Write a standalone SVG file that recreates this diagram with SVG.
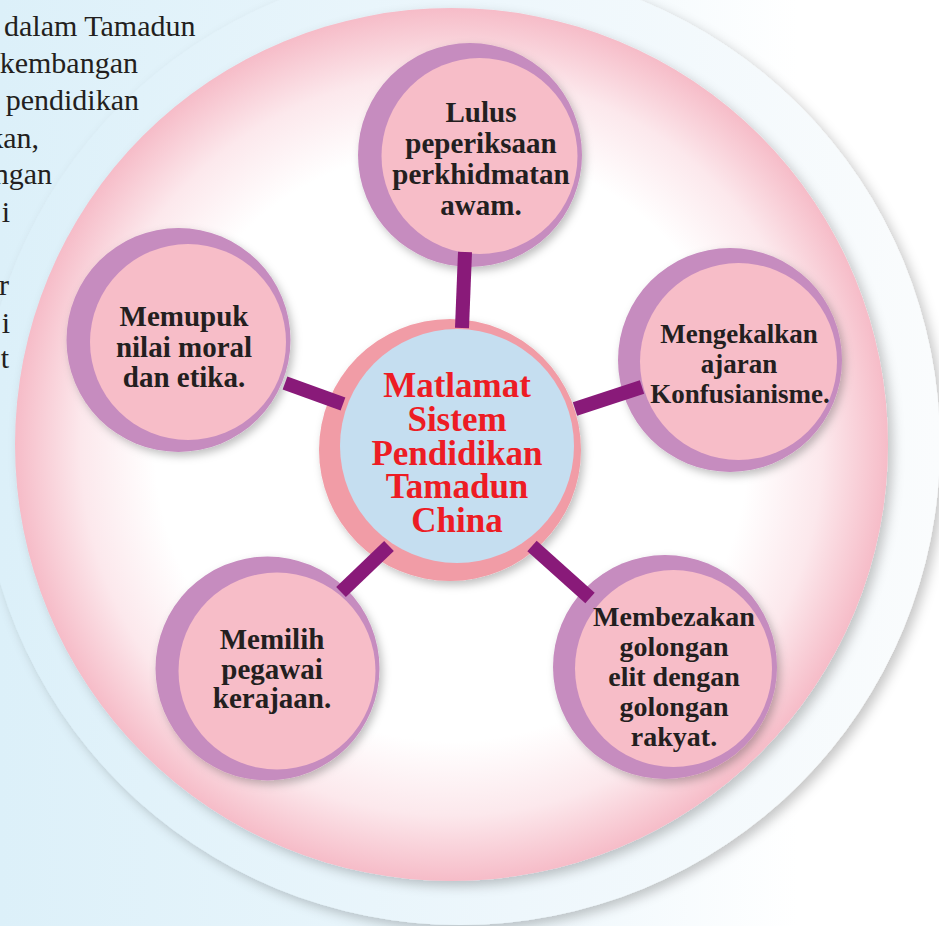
<svg xmlns="http://www.w3.org/2000/svg" width="939" height="926" viewBox="0 0 939 926">
  <defs>
    <linearGradient id="bgGrad" gradientUnits="userSpaceOnUse" x1="0" y1="0" x2="939" y2="0">
      <stop offset="0" stop-color="#dcf0f9"/>
      <stop offset="0.55" stop-color="#edf7fc"/>
      <stop offset="0.85" stop-color="#ffffff"/>
    </linearGradient>
    <linearGradient id="outerGrad" gradientUnits="userSpaceOnUse" x1="0" y1="0" x2="939" y2="0">
      <stop offset="0" stop-color="#dcf0f9"/>
      <stop offset="0.55" stop-color="#eef7fc"/>
      <stop offset="1" stop-color="#fafcfd"/>
    </linearGradient>
    <radialGradient id="pinkGrad" cx="0.5" cy="0.5" r="0.5">
      <stop offset="0" stop-color="#ffffff"/>
      <stop offset="0.68" stop-color="#ffffff"/>
      <stop offset="0.85" stop-color="#fce8ec"/>
      <stop offset="1" stop-color="#f6bcc8"/>
    </radialGradient>
    <filter id="shBig" x="-10%" y="-10%" width="125%" height="125%">
      <feDropShadow dx="5" dy="5" stdDeviation="6" flood-color="#000" flood-opacity="0.22"/>
    </filter>
    <filter id="shNode" x="-15%" y="-15%" width="135%" height="135%">
      <feDropShadow dx="3" dy="4" stdDeviation="4" flood-color="#000" flood-opacity="0.25"/>
    </filter>
    <style>
      .ring { fill: #c68cbf; filter: url(#shNode); }
      .face { fill: #f7bdc8; }
      .lbl { font-family: "Liberation Serif", "Times New Roman", serif; font-weight: bold; font-size: 29px; fill: #231f20; text-anchor: middle; }
      .ctr { font-family: "Liberation Serif", "Times New Roman", serif; font-weight: bold; font-size: 35px; fill: #ed1c24; text-anchor: middle; }
      .para { font-family: "Liberation Serif", "Times New Roman", serif; font-size: 30px; fill: #231f20; }
      .bar { stroke: #891a79; stroke-width: 14; stroke-linecap: butt; fill: none; }
    </style>
  </defs>

  <rect x="0" y="0" width="939" height="926" fill="url(#bgGrad)"/>

  <g id="backdrop">
    <circle cx="460" cy="445" r="480" fill="url(#outerGrad)" filter="url(#shBig)"/>
    <circle cx="451.5" cy="444.5" r="436.5" fill="url(#pinkGrad)" filter="url(#shBig)"/>
  </g>

  <g id="paragraph">
    <text class="para" x="4" y="36">dalam Tamadun</text>
    <text class="para" x="138" y="73" text-anchor="end">kembangan</text>
    <text class="para" x="139" y="110" text-anchor="end">pendidikan</text>
    <text class="para" x="39" y="148" text-anchor="end">kan,</text>
    <text class="para" x="52" y="184" text-anchor="end">ngan</text>
    <text class="para" x="10" y="222" text-anchor="end">i</text>
    <text class="para" x="9" y="295" text-anchor="end">r</text>
    <text class="para" x="10" y="333" text-anchor="end">i</text>
    <text class="para" x="9" y="368" text-anchor="end">t</text>
  </g>

  <g id="center">
    <circle cx="450" cy="450" r="131" fill="#f19ca6" filter="url(#shNode)"/>
    <circle cx="457" cy="446" r="117" fill="#c5def0"/>
    <text class="ctr" x="457" y="397">Matlamat</text>
    <text class="ctr" x="457" y="431">Sistem</text>
    <text class="ctr" x="457" y="465">Pendidikan</text>
    <text class="ctr" x="457" y="498">Tamadun</text>
    <text class="ctr" x="457" y="532">China</text>
  </g>

  <g id="node-lulus">
    <circle class="ring" cx="470" cy="155" r="112"/>
    <circle class="face" cx="479.5" cy="156" r="98"/>
    <text class="lbl" x="481" y="122">Lulus</text>
    <text class="lbl" x="481" y="153">peperiksaan</text>
    <text class="lbl" x="481" y="184">perkhidmatan</text>
    <text class="lbl" x="481" y="215">awam.</text>
  </g>

  <g id="node-memupuk">
    <circle class="ring" cx="178.5" cy="340" r="112"/>
    <circle class="face" cx="188" cy="342" r="98"/>
    <text class="lbl" x="184" y="326">Memupuk</text>
    <text class="lbl" x="184" y="357">nilai moral</text>
    <text class="lbl" x="184" y="387">dan etika.</text>
  </g>

  <g id="node-mengekalkan">
    <circle class="ring" cx="730" cy="360" r="112"/>
    <circle class="face" cx="738.5" cy="361.5" r="98.5"/>
    <text class="lbl" x="739" y="343" style="font-size:27px">Mengekalkan</text>
    <text class="lbl" x="739" y="373" style="font-size:27px">ajaran</text>
    <text class="lbl" x="740" y="403" style="font-size:27px">Konfusianisme.</text>
  </g>

  <g id="node-membezakan">
    <circle class="ring" cx="665" cy="667" r="112"/>
    <circle class="face" cx="673.5" cy="668.5" r="98.5"/>
    <text class="lbl" x="674" y="626" style="font-size:28px">Membezakan</text>
    <text class="lbl" x="674" y="656" style="font-size:28px">golongan</text>
    <text class="lbl" x="674" y="686" style="font-size:28px">elit dengan</text>
    <text class="lbl" x="674" y="716" style="font-size:28px">golongan</text>
    <text class="lbl" x="674" y="746" style="font-size:28px">rakyat.</text>
  </g>

  <g id="node-memilih">
    <circle class="ring" cx="267.5" cy="668.5" r="112"/>
    <circle class="face" cx="277" cy="671" r="98.5"/>
    <text class="lbl" x="272" y="649">Memilih</text>
    <text class="lbl" x="272" y="679">pegawai</text>
    <text class="lbl" x="272" y="708">kerajaan.</text>
  </g>

  <g id="connectors">
    <line class="bar" x1="465" y1="252" x2="462" y2="328"/>
    <line class="bar" x1="285" y1="383" x2="343" y2="404"/>
    <line class="bar" x1="575" y1="409" x2="642" y2="387"/>
    <line class="bar" x1="532" y1="546" x2="590" y2="598"/>
    <line class="bar" x1="389" y1="546" x2="341" y2="592"/>
  </g>
</svg>
